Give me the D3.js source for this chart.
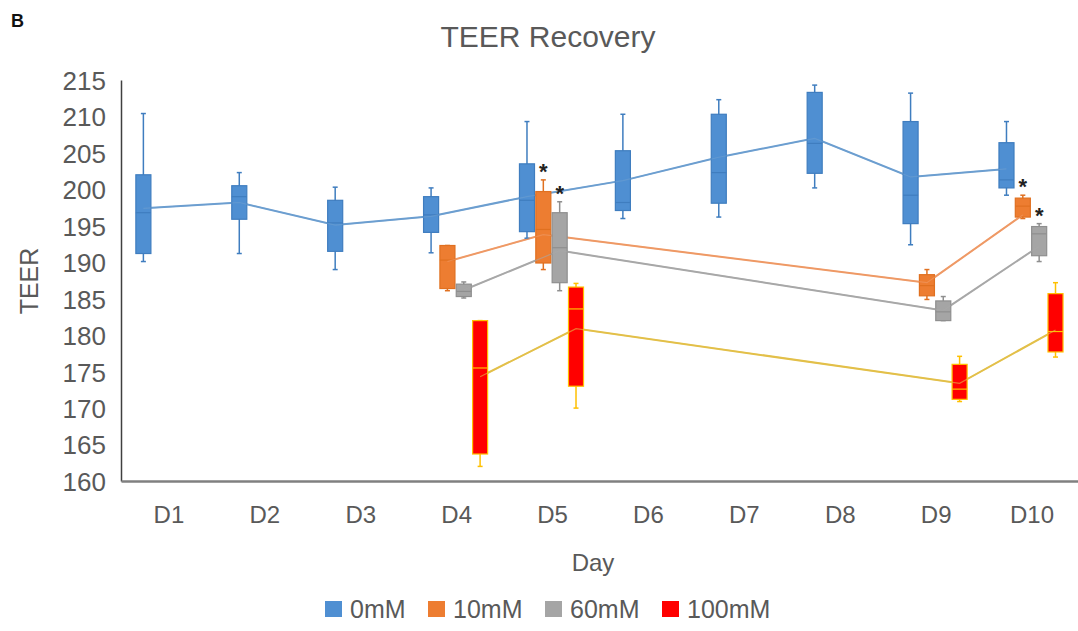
<!DOCTYPE html>
<html>
<head>
<meta charset="utf-8">
<script src="https://cdn.jsdelivr.net/npm/d3@7"></script>
<style>
  body { margin: 0; background: #fff; }
  text { font-family: "Liberation Sans", Arial, sans-serif; fill: #595959; }
</style>
</head>
<body>
<div id="chart"></div>
<script>
// categories and series
var days = ["D1", "D2", "D3", "D4", "D5", "D6", "D7", "D8", "D9", "D10"];
var seriesNames = ["0mM", "10mM", "60mM", "100mM"];
var yTicks = [160, 165, 170, 175, 180, 185, 190, 195, 200, 205, 210, 215];

// each row: [min, q1, median, q3, max, mean], null = no box that day
var box0mM = [
  [190.1, 191.2, 196.8, 202.0, 210.4, 197.4],
  [191.2, 195.9, 199.0, 200.5, 202.3, 198.2],
  [189.0, 191.5, 195.4, 198.5, 200.3, 195.1],
  [191.3, 194.1, 196.5, 199.0, 200.2, 196.3],
  [193.3, 194.2, 198.5, 203.5, 209.3, 199.0],
  [196.0, 197.1, 198.2, 205.3, 210.3, 201.2],
  [196.2, 198.1, 202.3, 210.3, 212.3, 204.4],
  [200.2, 202.2, 206.3, 213.3, 214.3, 207.0],
  [192.4, 195.3, 199.2, 209.3, 213.2, 201.7],
  [199.2, 200.2, 201.3, 206.4, 209.3, 202.8]
];
var box10mM = [
  null, null, null,
  [186.1, 186.4, 190.3, 192.3, 192.3, 190.1],
  [189.0, 189.9, 194.5, 199.7, 201.3, 193.8],
  null, null, null,
  [184.9, 185.4, 186.8, 188.3, 189.0, 187.2],
  [196.0, 196.2, 197.7, 198.8, 199.2, 196.5]
];
var box60mM = [
  null, null, null,
  [185.1, 185.3, 186.0, 187.0, 187.3, 186.2],
  [186.1, 187.2, 192.0, 196.8, 198.3, 191.6],
  null, null, null,
  [182.0, 182.0, 183.2, 184.7, 185.3, 183.4],
  [190.1, 190.9, 193.9, 194.9, 195.3, 192.2]
];
var box100mM = [
  null, null, null,
  [162.0, 163.7, 175.5, 182.0, 182.0, 174.3],
  [170.0, 173.0, 183.6, 186.6, 187.1, 180.9],
  null, null, null,
  [170.9, 171.2, 172.6, 176.0, 177.1, 173.4],
  [177.0, 177.7, 180.5, 185.7, 187.2, 180.7]
];

// significance marks (series, day)
var sigMarks = [["10mM", "D5"], ["60mM", "D5"], ["10mM", "D10"], ["60mM", "D10"]];

var allBoxes = [box0mM, box10mM, box60mM, box100mM];
var fills   = ["#4f8fd2", "#ed7d31", "#a5a5a5", "#ff0000"];
var strokes = ["#3f7dbf", "#e07020", "#8f8f8f", "#ffc000"];
var lineCol = ["#6d9fd0", "#ef9a66", "#a8a8a8", "#e3c04a"];

var width = 1078, height = 631;

var svg = d3.select("#chart")
  .append("svg")
    .attr("width", width)
    .attr("height", height);

// scales
var x = d3.scaleBand()
  .domain(days)
  .range([121, 1080]);

var bw = x.bandwidth();
var xs = d3.scaleBand()
  .domain(seriesNames)
  .range([bw * 0.155, bw * 0.823])
  .paddingInner(0.08)
  .paddingOuter(0);

var y = d3.scaleLinear()
  .domain([160, 215])
  .range([481, 80]);

// "B" panel letter
svg.append("text")
  .attr("x", 11).attr("y", 27)
  .style("font-size", "18px")
  .style("font-weight", "bold")
  .style("fill", "#111")
  .text("B");

// title
svg.append("text")
  .attr("x", 548).attr("y", 47)
  .attr("text-anchor", "middle")
  .style("font-size", "30px")
  .text("TEER Recovery");

// Y axis
var yAxis = svg.append("g")
  .attr("transform", "translate(121,0)")
  .call(d3.axisLeft(y).tickValues(yTicks).tickSize(0).tickPadding(15).tickFormat(d3.format("d")));
yAxis.select(".domain").attr("stroke", "#404040").attr("stroke-width", 1.5);
yAxis.selectAll("text")
  .style("font-size", "26px")
  .style("fill", "#595959")
  .attr("dy", "0.36em");

// X axis
var xAxis = svg.append("g")
  .attr("transform", "translate(0,481)")
  .call(d3.axisBottom(x).tickSize(0).tickPadding(25));
xAxis.select(".domain").attr("stroke", "#808080").attr("stroke-width", 2.5);
xAxis.selectAll("text")
  .style("font-size", "24px")
  .style("fill", "#595959");

// axis titles
svg.append("text")
  .attr("transform", "translate(38,281) rotate(-90)")
  .attr("text-anchor", "middle")
  .style("font-size", "25px")
  .text("TEER");

svg.append("text")
  .attr("x", 593).attr("y", 571)
  .attr("text-anchor", "middle")
  .style("font-size", "24px")
  .text("Day");

function cx(si, di) {
  return x(days[di]) + xs(seriesNames[si]) + xs.bandwidth() / 2;
}

// mean lines (drawn under the boxes)
allBoxes.forEach(function(boxes, si) {
  var pts = [];
  boxes.forEach(function(b, di) { if (b) pts.push([cx(si, di), y(b[5])]); });
  svg.append("path")
    .attr("d", d3.line()(pts))
    .attr("fill", "none")
    .attr("stroke", lineCol[si])
    .attr("stroke-width", 2);
});

// boxes and whiskers
allBoxes.forEach(function(boxes, si) {
  var g = svg.append("g");
  var bwid = xs.bandwidth();
  boxes.forEach(function(b, di) {
    if (!b) return;
    var c = cx(si, di);
    // whiskers
    g.append("line")
      .attr("x1", c).attr("x2", c)
      .attr("y1", y(b[4])).attr("y2", y(b[0]))
      .attr("stroke", strokes[si]).attr("stroke-width", 1.5);
    [b[0], b[4]].forEach(function(v) {
      g.append("line")
        .attr("x1", c - 2.5).attr("x2", c + 2.5)
        .attr("y1", y(v)).attr("y2", y(v))
        .attr("stroke", strokes[si]).attr("stroke-width", 1.5);
    });
    // box
    g.append("rect")
      .attr("x", c - bwid / 2)
      .attr("y", y(b[3]))
      .attr("width", bwid)
      .attr("height", Math.max(1, y(b[1]) - y(b[3])))
      .attr("fill", fills[si])
      .attr("stroke", strokes[si])
      .attr("stroke-width", 1.2);
    // median
    g.append("line")
      .attr("x1", c - bwid / 2).attr("x2", c + bwid / 2)
      .attr("y1", y(b[2])).attr("y2", y(b[2]))
      .attr("stroke", strokes[si]).attr("stroke-width", 1.2);
  });
  // mean line passes over the box
  var pts = [];
  boxes.forEach(function(b, di) { if (b) pts.push([cx(si, di), y(b[5])]); });
  g.append("path")
    .attr("d", d3.line()(pts))
    .attr("fill", "none")
    .attr("stroke", lineCol[si])
    .attr("stroke-width", 1.2)
    .attr("opacity", 0.6);
});

// asterisks
sigMarks.forEach(function(m) {
  var si = seriesNames.indexOf(m[0]);
  var di = days.indexOf(m[1]);
  var b = allBoxes[si][di];
  svg.append("text")
    .attr("x", cx(si, di))
    .attr("y", y(b[4]) - 1)
    .attr("text-anchor", "middle")
    .style("font-size", "22px")
    .style("font-weight", "bold")
    .style("fill", "#222")
    .text("*");
});

// legend
var legX = [325, 428, 545, 662];
var leg = svg.append("g");
seriesNames.forEach(function(s, i) {
  leg.append("rect")
    .attr("x", legX[i]).attr("y", 601)
    .attr("width", 17).attr("height", 16)
    .attr("fill", fills[i]);
  leg.append("text")
    .attr("x", legX[i] + 25).attr("y", 618)
    .style("font-size", "25px")
    .text(s);
});
</script>
</body>
</html>
